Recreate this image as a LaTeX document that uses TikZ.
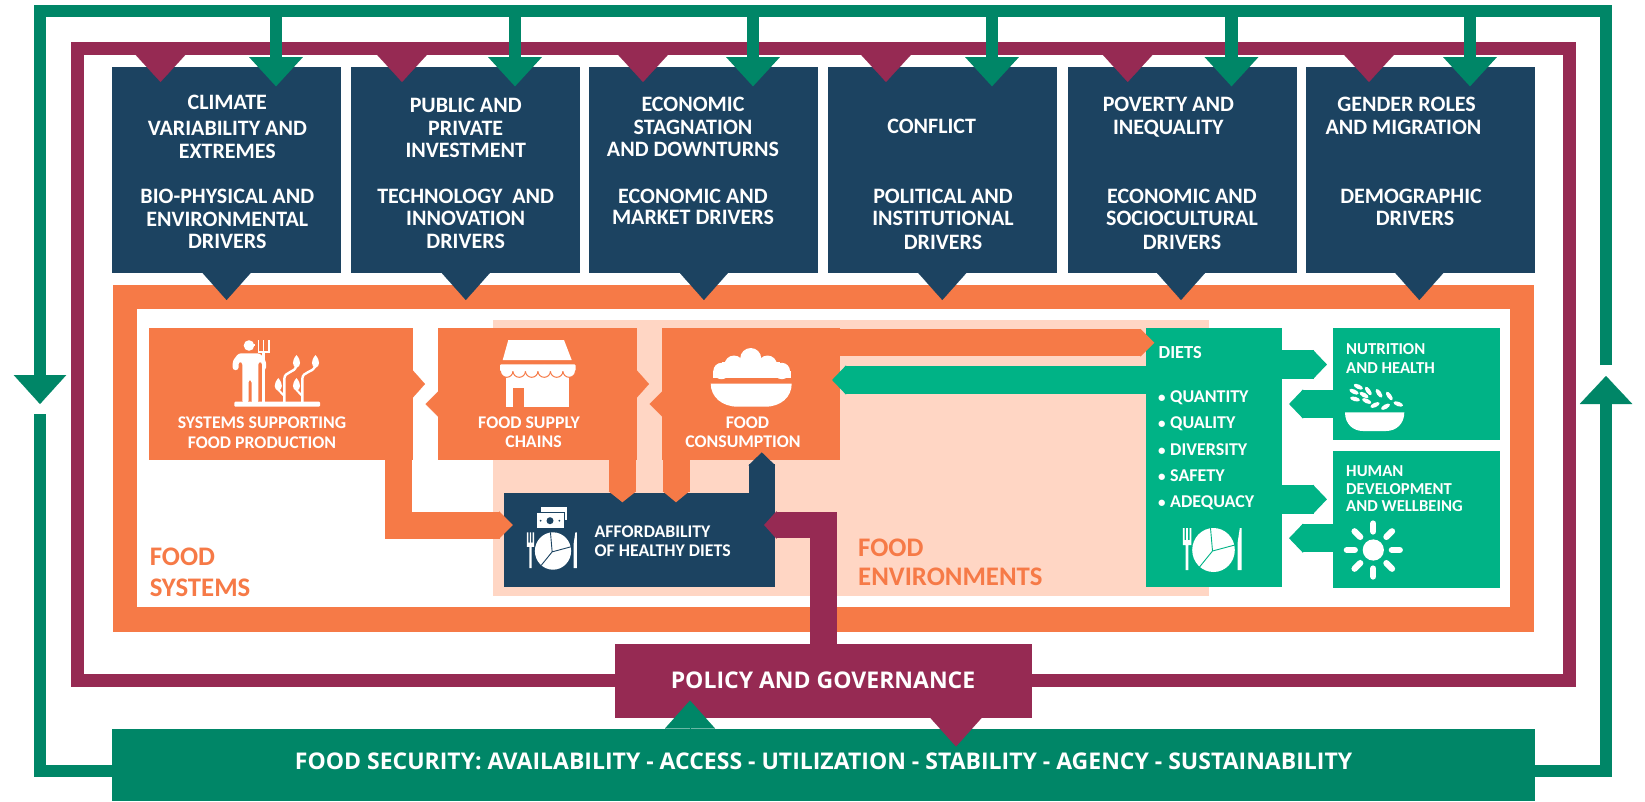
\documentclass[tikz,border=0pt]{standalone}
\usepackage{fontspec}
\setmainfont{Carlito}
\newfontfamily\opensans{Open Sans}
\usetikzlibrary{arrows.meta,calc}
\definecolor{cgreen}{HTML}{008667}
\definecolor{cteal}{HTML}{00B386}
\definecolor{cnavy}{HTML}{1C4361}
\definecolor{cplum}{HTML}{962A53}
\definecolor{corange}{HTML}{F67A47}
\definecolor{cpeach}{HTML}{FFD6C4}
\newcommand{\PlateIcon}[4]{%
\begin{scope}[shift={(#1,#2)},scale=#4]
\fill[white] (0,0) ellipse (21.3 and 22);
\draw[#3,line width=.9] (-1,1) -- (-3,-22) (-1,1) -- (21.3,-5) (-1,1) -- (-14,17);
\fill[white] (-30.7,-22) rectangle (-29,-8) (-27.3,-22) rectangle (-25.6,-8) (-23.9,-22) rectangle (-22.2,-8) (-30.7,-10) rectangle (-22.2,-5) (-27.8,-6) rectangle (-25.1,20);
\fill[white] (26.3,-22) -- (28,-22) -- (28,20) -- (24.2,20) -- (24.2,-8) -- cycle;
\end{scope}}
\tikzset{
  x=1pt,y=-1pt,
  boxn/.style={draw=none,inner sep=0,outer sep=0,minimum width=#1},
  navybox/.style={fill=cnavy,boxn=229,minimum height=206},
  orbox/.style={fill=corange,boxn=#1,minimum height=132.5},
  tealbox/.style={fill=cteal,boxn=#1},
  drv/.style={text=white,font=\fontsize{22}{22}\selectfont\bfseries,align=center,inner sep=0,anchor=north},
  lbl/.style={text=white,font=\fontsize{17.8}{19}\selectfont\bfseries,inner sep=0},
  big/.style={text=corange,font=\fontsize{26.8}{30.8}\selectfont\bfseries,inner sep=0,align=left,anchor=north west},
  gline/.style={draw=cgreen,line width=12.5,line join=miter},
  gtip/.style={draw=cgreen,line width=12.5,-{Triangle[length=29.4pt,width=52pt,fill=cgreen]}},
  ptip/.style={draw=cplum,line width=.1,-{Triangle[length=27.3pt,width=50pt,fill=cplum]}},
  ntip/.style={draw=cnavy,line width=.1,-{Triangle[length=27pt,width=48pt,fill=cnavy]}},
  otip/.style={draw=corange,line width=.1},
  oflow/.style={draw=corange,line width=27,line join=miter,-{Triangle[length=14pt,width=27pt,fill=corange]}},
  tflow/.style={draw=cteal,line width=28.4,line join=miter,-{Triangle[length=14pt,width=28.4pt,fill=cteal]}},
  pflow/.style={draw=cplum,line width=26.5,line join=miter,-{Triangle[length=12.5pt,width=27pt,fill=cplum]}},
  nflow/.style={draw=cnavy,line width=26,-{Triangle[length=13pt,width=26pt,fill=cnavy]}},
}
\begin{document}
\begin{tikzpicture}
\useasboundingbox (0,0) rectangle (1645,801);
\fill[white] (0,0) rectangle (1645,801);
% plum frame
\draw[cplum,line width=13] (77.2,48) rectangle (1569.5,680.7);
% food system frame
\draw[corange,line width=24.4] (125,296.7) rectangle (1522,619.4);
\fill[cpeach] (493,320) rectangle (1209,596);
% drivers
\node[navybox] (d1) at (226.2,169.9) {};
\node[navybox] (d2) at (465,169.9) {};
\node[navybox] (d3) at (703.9,169.9) {};
\node[navybox] (d4) at (942.8,169.9) {};
\node[navybox] (d5) at (1182.2,169.9) {};
\node[navybox] (d6) at (1420.4,169.9) {};
% core boxes
\node[orbox=263.7] (sys) at (280.8,393.8) {};
\node[orbox=198.7] (sup) at (537.4,393.8) {};
\node[orbox=178] (con) at (751,393.8) {};
\node[fill=cnavy,boxn=271.4,minimum height=94] (aff) at (639.7,539.7) {};
\node[tealbox=136,minimum height=259] (die) at (1213.5,457.2) {};
\node[tealbox=166.7,minimum height=112.6] (nut) at (1416.3,384) {};
\node[tealbox=166.7,minimum height=137.3] (hum) at (1416.3,519.7) {};
\node[fill=cplum,boxn=417.6,minimum height=74] (pol) at (823.5,681) {};
\node[fill=cgreen,boxn=1423,minimum height=72] (sec) at (823.5,765) {};
% green loop
\coordinate (gtl) at (40,11);
\coordinate (gtr) at (1606,11);
\coordinate (gl) at (40,404);
\coordinate (gls) at (40,414);
\coordinate (grs) at (1606,365);
\coordinate (gr) at (1606,376);
\draw[gline] (grs) -- (gtr) -- (gtl) -- ($(gl)+(0,-25)$);
\draw[draw=cgreen,line width=.1,-{Triangle[length=29pt,width=52.5pt,fill=cgreen]}] (40,374) -- (gl);
\draw[gline] (sec.west |- 0,771) -| (gls);
\draw[gline] (sec.east |- 0,771) -| ($(gr)+(0,26)$);
\draw[draw=cgreen,line width=.1,-{Triangle[length=28pt,width=52.5pt,fill=cgreen]}] (1606,405) -- (gr);
% plum tips on the drivers, green arrows
\foreach \i/\x in {1/160.5,2/402,3/643,4/886,5/1127.7,6/1369}{
  \coordinate (pt\i) at (\x,82);
  \draw[ptip] (pt\i |- 0,54.7) -- (pt\i);}
\foreach \i/\x in {1/276,2/515,3/753,4/992,5/1231.5,6/1470}{
  \coordinate (gt\i) at (\x,86.5);
  \draw[gtip] (gt\i |- 0,17) -- (gt\i);}
% navy tips into the food system
\foreach \i/\x in {1/226.6,2/465.8,3/703.9,4/942.3,5/1181,6/1419.3}{
  \coordinate (nt\i) at (\x,300);
  \draw[ntip] (nt\i |- d\i.south) -- (nt\i);}
% zigzag points
\coordinate (z1) at (425,384);
\coordinate (z2) at (425.5,404);
\coordinate (z3) at (649,384);
\coordinate (z4) at (649.6,404);
\draw[otip,-{Triangle[length=12.3pt,width=27.5pt,fill=corange]}] (z1 -| sys.east) -- (z1);
\draw[otip,-{Triangle[length=12.5pt,width=25pt,fill=corange]}] (z2 -| sup.west) -- (z2);
\draw[otip,-{Triangle[length=12.3pt,width=27.5pt,fill=corange]}] (z3 -| sup.east) -- (z3);
\draw[otip,-{Triangle[length=12.5pt,width=25pt,fill=corange]}] (z4 -| con.west) -- (z4);
% flows to affordability
\coordinate (a1) at (513,525);
\coordinate (a2) at (622.4,502.3);
\coordinate (a3) at (676,502.3);
\coordinate (a4) at (761.8,452.3);
\coordinate (a5) at (764,525);
\draw[oflow] (398.7,460) |- (a1);
\draw[oflow,-{Triangle[length=11pt,width=27pt,fill=corange]}] (a2 |- sup.south) -- (a2);
\draw[oflow,-{Triangle[length=11pt,width=26pt,fill=corange]}] (a3 |- con.south) -- (a3);
\draw[nflow] (a4 |- aff.north) -- (a4);
\draw[pflow] (823.7,644) |- (a5);
% consumption and diets
\coordinate (c1) at (1154.4,342.8);
\coordinate (c2) at (832,380);
\draw[tflow] (c2 -| die.west) -- (c2);
\draw[oflow] (c1 -| con.east) -- (c1);
% diets and outcomes
\coordinate (o1) at (1327,364.5);
\coordinate (o2) at (1289,404);
\coordinate (o3) at (1327,499.3);
\coordinate (o4) at (1289,538.2);
\draw[tflow] (o1 -| die.east) -- (o1);
\draw[tflow] (o2 -| nut.west) -- (o2);
\draw[tflow] (o3 -| die.east) -- (o3);
\draw[tflow] (o4 -| hum.west) -- (o4);
% policy to food security
\coordinate (s1) at (690,700.5);
\coordinate (s2) at (956,746.5);
\draw[draw=cgreen,line width=.1,-{Triangle[length=28pt,width=50pt,fill=cgreen]}] (s1 |- sec.north) -- (s1);
\draw[draw=cplum,line width=.1,-{Triangle[length=28.5pt,width=51pt,fill=cplum]}] (s2 |- pol.south) -- (s2);
% driver texts
\node[drv] (t1) at (227.3,94.6) {CLIMATE\\[4pt]VARIABILITY AND\\[1pt]EXTREMES\\[23pt]BIO-PHYSICAL AND\\[1pt]ENVIRONMENTAL\\DRIVERS};
\node[drv] (t2) at (465.7,97.6) {PUBLIC AND\\[1pt]PRIVATE\\INVESTMENT\\[24.5pt]TECHNOLOGY\ \ AND\\INNOVATION\\[1pt]DRIVERS};
\node[drv] (t3) at (693,97.2) {ECONOMIC\\[1pt]STAGNATION\hspace*{8pt}\\[-.3pt]AND DOWNTURNS\hspace*{13pt}\\[24.7pt]ECONOMIC AND\\[-.7pt]MARKET DRIVERS};
\node[drv] (t4) at (931.7,119.2) {CONFLICT};
\node[drv] (t4b) at (943,188.6) {POLITICAL AND\\[.6pt]INSTITUTIONAL\\[1.4pt]DRIVERS};
\node[drv] (t5) at (1168.3,97.2) {POVERTY AND\\[1pt]INEQUALITY};
\node[drv] (t5b) at (1182,188.6) {ECONOMIC AND\\[.6pt]SOCIOCULTURAL\\[1.4pt]DRIVERS};
\node[drv] (t6) at (1409,97.2) {GENDER ROLES\hspace*{5pt}\\[1pt]AND MIGRATION\hspace*{11pt}};
\node[drv] (t6b) at (1411,188.6) {DEMOGRAPHIC\\[.6pt]\hspace*{8pt}DRIVERS};
% core texts
\node[lbl,align=center] (l1) at (262,433) {SYSTEMS SUPPORTING\\[1pt]FOOD PRODUCTION};
\node[lbl,align=center] (l2) at (529,432) {FOOD SUPPLY\\\hspace*{9pt}CHAINS};
\node[lbl,align=center] (l3) at (743,432) {\hspace*{9pt}FOOD\\CONSUMPTION};
\node[lbl,align=left,anchor=west] (l4) at (594.5,541.5) {AFFORDABILITY\\OF HEALTHY DIETS};
\node[big] (l5) at (149.6,547.5) {FOOD\\SYSTEMS};
\node[big] (l6) at (858,539) {FOOD\\[-2pt]ENVIRONMENTS};
\node[lbl,anchor=west,font=\fontsize{18.4}{19}\selectfont\bfseries] (l7) at (1158.5,352.5) {DIETS};
\node[lbl,anchor=north west,align=left,font=\fontsize{18}{26.25}\selectfont\bfseries] (l8) at (1158,390.5) {\makebox[12pt][l]{\fontsize{15}{15}\selectfont •}QUANTITY\\\makebox[12pt][l]{\fontsize{15}{15}\selectfont •}QUALITY\\\makebox[12pt][l]{\fontsize{15}{15}\selectfont •}DIVERSITY\\\makebox[12pt][l]{\fontsize{15}{15}\selectfont •}SAFETY\\\makebox[12pt][l]{\fontsize{15}{15}\selectfont •}ADEQUACY};
\node[lbl,anchor=north west,align=left,font=\fontsize{16.7}{18.6}\selectfont\bfseries] (l9) at (1346,343.5) {NUTRITION\\AND HEALTH};
\node[lbl,anchor=north west,align=left,font=\fontsize{16.7}{18}\selectfont\bfseries] (l10) at (1346,465) {HUMAN\\[.7pt]DEVELOPMENT\\[-1pt]AND WELLBEING};
\node[text=white,inner sep=0,font=\opensans\bfseries\fontsize{23}{26}\selectfont] (l11) at (823,680) {POLICY AND GOVERNANCE};
\node[text=white,inner sep=0,font=\opensans\bfseries\fontsize{23}{26}\selectfont] (l12) at (823.5,761.5) {FOOD SECURITY: AVAILABILITY - ACCESS - UTILIZATION - STABILITY - AGENCY - SUSTAINABILITY};
% farmer icon
\fill[white] (249,345.5) circle (5.3);
\fill[white] (243.5,344) rectangle (254.5,346);
\fill[white,rounded corners=2.5] (232.7,370) -- (232.7,361) -- (238.5,353.3) -- (260,353.3) -- (266,361) -- (266,370) -- (262,370) -- (262,362) -- (258.3,362) -- (258.3,403) -- (251.5,403) -- (251.5,380) -- (248.5,380) -- (248.5,403) -- (242.3,403) -- (242.3,362) -- (238.5,362) -- (238.5,370) -- cycle;
\draw[white,line width=2.2] (263.5,352) -- (263.5,403);
\draw[white,line width=1.8] (258.4,340) -- (258.4,352) (263.5,340) -- (263.5,352) (268.8,340) -- (268.8,352);
\draw[white,line width=1.8] (257.6,352) -- (269.6,352);
\fill[white,rounded corners=1] (234.3,401.7) rectangle (320,406.7);
\draw[white,line width=2.4] (284.3,403) -- (284.3,379) .. controls (284.3,371) and (295.5,373) .. (296,366);
\draw[white,line width=2.4] (302.3,403) -- (302.3,379) .. controls (302.3,371) and (313.5,373) .. (315,366);
\draw[white,line width=2] (284.3,396) -- (278.5,390) (302.3,396) -- (296.5,390);
\foreach \a/\b in {296.5/362,315.5/362,278.3/385,296.5/385}{
  \fill[white] (\a,\b-7) .. controls (\a+5,\b-1) and (\a+4.5,\b+4) .. (\a,\b+6) .. controls (\a-4.5,\b+4) and (\a-5,\b-1) .. (\a,\b-7);}
% shop icon
\fill[white] (505.7,373) rectangle (569.3,406.7);
\fill[corange] (512.7,409) rectangle (524.3,387.7);
\fill[white] (508.3,340) -- (564,340) -- (571.7,360) -- (502.7,360) -- cycle;
\foreach \x in {506.7,519.2,531.7,544.2,556.7,569.2}{\filldraw[fill=white,draw=corange,line width=1] (\x,371) circle (6.3);}
\fill[white,rounded corners=1] (500,364.3) rectangle (575.5,371.2);
% bowl icon
\foreach \a/\b/\r in {750.7/358.5/10.5,734/365/9.5,767.5/365/9.5,721.5/371/8.2,781.8/371/8.2}{\fill[white] (\a,\b) circle (\r);}
\fill[white] (712.8,371) rectangle (790.5,378.3);
\fill[white] (722,362) rectangle (780,372);
\fill[white] (710.7,383.5) -- (791.7,383.5) .. controls (791.7,397) and (781,406.7) .. (765,406.7) -- (738,406.7) .. controls (722,406.7) and (710.7,397) .. cycle;
% plates
\PlateIcon{553}{551}{cnavy}{.85}
\PlateIcon{1213.5}{550}{cteal}{1}
% money icon
\fill[white] (540.7,507.3) rectangle (566.7,520);
\fill[white] (537.3,513.3) rectangle (564,528.3);
\draw[cnavy,line width=.9] (537.3,512.8) -- (564.5,512.8) -- (564.5,528.3);
\fill[cnavy] (550,520.7) circle (3.5);
\fill[cnavy] (540.7,520.7) circle (1) (559.3,520.7) circle (1);
% wheat bowl icon
\foreach \a/\b/\r in {1358.3/386.7/25,1368.3/391/55,1379/393.3/55,1389.3/396/55,1398.3/404/20,1354/391.7/25,1364/395/30,1355/399/15,1366.7/401/25,1375/405/-25,1385.5/406.7/-30}{
  \fill[white,rotate around={-\r:(\a,\b)}] (\a,\b) ellipse (5 and 2.2);}
\fill[white] (1345,412.3) -- (1404.3,412.3) .. controls (1404.3,424) and (1396,431) .. (1386,431) -- (1363,431) .. controls (1353,431) and (1345,424) .. cycle;
% sun icon
\fill[white] (1373.3,550) circle (10.6);
\foreach \r in {0,45,...,315}{\draw[white,line width=6.2,line cap=round] ($(1373.3,550)+(\r:18.5)$) -- ($(1373.3,550)+(\r:26.5)$);}
\end{tikzpicture}
\end{document}
